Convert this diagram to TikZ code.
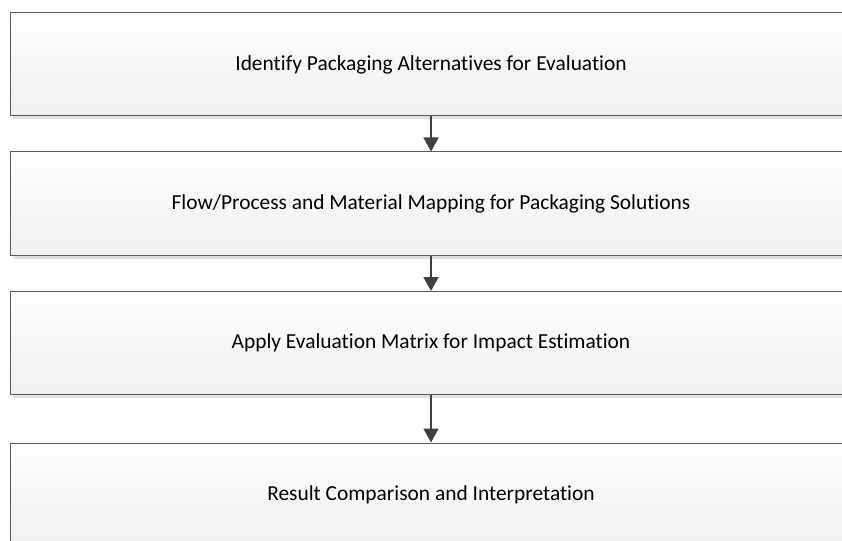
\documentclass[tikz,border=0pt]{standalone}
\usepackage{fontspec}
\setmainfont{Carlito}[Ligatures=NoCommon]
\usetikzlibrary{arrows.meta,shadows,positioning}
\definecolor{edgegray}{HTML}{5A5A5A}
\definecolor{arrowgray}{HTML}{404040}

\begin{document}
\begin{tikzpicture}[x=1pt,y=1pt,
  box/.style={draw=edgegray,line width=1pt,minimum width=842pt,minimum height=103pt,
    top color=white,bottom color=black!6,inner sep=0pt,
    drop shadow={shadow xshift=3pt,shadow yshift=-3.5pt,fill=black!12,opacity=1},
    font=\fontsize{21.4}{25}\selectfont},
  arr/.style={-{Triangle[length=14pt,width=15pt]},line width=1.6pt,draw=arrowgray,fill=arrowgray}]
  \clip (0,0) rectangle (842,-540);
  \node[box] (ident) at (431,-64.5) {Identify Packaging Alternatives for Evaluation};
  \node[box] (flow) at (431,-203.5) {Flow/Process and Material Mapping for Packaging Solutions};
  \node[box] (eval) at (431,-343) {Apply Evaluation Matrix for Impact Estimation};
  \node[box] (result) at (431,-494.5) {Result Comparison and Interpretation};
  \draw[arr] (ident.south) -- (flow.north);
  \draw[arr] (flow.south) -- (eval.north);
  \draw[arr] (eval.south) -- (result.north);
\end{tikzpicture}
\end{document}
